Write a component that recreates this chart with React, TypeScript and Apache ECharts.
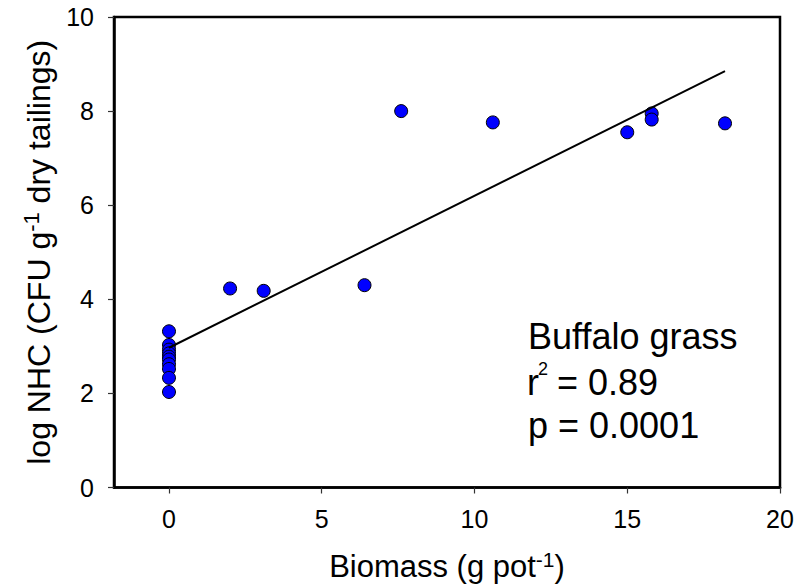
import React, { useEffect, useRef } from "react";
import * as echarts from "echarts";

const biomassX = [0, 0, 0, 0, 0, 0, 0, 0, 0, 0, 2.0, 3.1, 6.4, 7.6, 10.6, 15.0, 15.8, 15.8, 18.2];
const nhcY = [3.32, 3.03, 2.93, 2.85, 2.78, 2.72, 2.62, 2.52, 2.33, 2.03, 4.23, 4.18, 4.3, 8.0, 7.76, 7.55, 7.95, 7.82, 7.74];
const fitX = [0, 18.2];
const fitY = [2.97, 8.85];
const xTickValues = [0, 5, 10, 15, 20];
const annotationTitle = "Buffalo grass";
const annotationR2 = "= 0.89";
const annotationP = "p = 0.0001";

const FONT = "'Liberation Sans', Arial, Helvetica, sans-serif";

export default function App() {
  const ref = useRef<HTMLDivElement>(null);
  useEffect(() => {
    if (!ref.current) return;
    const chart = echarts.init(ref.current, undefined, { renderer: "svg" });
    const points = biomassX.map((x, i) => [x, nhcY[i]]);
    const fit = fitX.map((x, i) => [x, fitY[i]]);
    chart.setOption({
      animation: false,
      backgroundColor: "#ffffff",
      grid: {
        left: 114,
        right: 20,
        top: 17,
        bottom: 99,
        show: true,
        borderColor: "#000",
        borderWidth: 2.5,
        backgroundColor: "transparent",
      },
      xAxis: {
        type: "value",
        min: -1.8,
        max: 20,
        splitLine: { show: false },
        axisLine: { show: true, onZero: false, lineStyle: { color: "#000", width: 2.5 } },
        axisTick: {
          show: true,
          customValues: xTickValues,
          length: 6,
          lineStyle: { color: "#333", width: 1.2 },
        },
        axisLabel: {
          customValues: xTickValues,
          margin: 19,
          fontSize: 25,
          color: "#000",
          fontFamily: FONT,
        },
        name: "{a|Biomass (g pot}{s|-1}{a|)}",
        nameLocation: "middle",
        nameGap: 61,
        nameTextStyle: {
          color: "#000",
          fontFamily: FONT,
          fontSize: 31,
          rich: {
            a: { fontSize: 31, lineHeight: 36, fontFamily: FONT, color: "#000" },
            s: { fontSize: 21, lineHeight: 33, verticalAlign: "top", fontFamily: FONT, color: "#000" },
          },
        },
      },
      yAxis: {
        type: "value",
        min: 0,
        max: 10,
        interval: 2,
        splitLine: { show: false },
        axisLine: { show: true, onZero: false, lineStyle: { color: "#000", width: 2.5 } },
        axisTick: { show: true, length: 6, lineStyle: { color: "#333", width: 1.2 } },
        axisLabel: {
          margin: 20,
          fontSize: 25,
          color: "#000",
          fontFamily: FONT,
        },
        name: "{a|log NHC (CFU g}{s|-1}{a| dry tailings)}",
        nameLocation: "middle",
        nameGap: 48,
        nameTextStyle: {
          color: "#000",
          fontFamily: FONT,
          fontSize: 32,
          rich: {
            a: { fontSize: 32, lineHeight: 38, fontFamily: FONT, color: "#000" },
            s: { fontSize: 22, lineHeight: 33, verticalAlign: "top", fontFamily: FONT, color: "#000" },
          },
        },
      },
      series: [
        {
          type: "scatter",
          data: points,
          symbol: "circle",
          symbolSize: 13,
          itemStyle: { color: "#0000ff", borderColor: "#000", borderWidth: 1, opacity: 1 },
          z: 2,
        },
        {
          type: "line",
          data: fit,
          showSymbol: false,
          symbol: "none",
          lineStyle: { color: "#000", width: 2 },
          z: 3,
        },
      ],
      graphic: [
        {
          type: "text",
          x: 528,
          y: 336,
          style: { text: annotationTitle, fontSize: 36, fontFamily: FONT, fill: "#000", align: "left", verticalAlign: "middle" },
        },
        {
          type: "text",
          x: 527,
          y: 382,
          style: { text: "r", fontSize: 36, fontFamily: FONT, fill: "#000", align: "left", verticalAlign: "middle" },
        },
        {
          type: "text",
          x: 538,
          y: 369,
          style: { text: "2", fontSize: 18, fontFamily: FONT, fill: "#000", align: "left", verticalAlign: "middle" },
        },
        {
          type: "text",
          x: 557,
          y: 382,
          style: { text: annotationR2, fontSize: 36, fontFamily: FONT, fill: "#000", align: "left", verticalAlign: "middle" },
        },
        {
          type: "text",
          x: 528,
          y: 425.5,
          style: { text: annotationP, fontSize: 36, fontFamily: FONT, fill: "#000", align: "left", verticalAlign: "middle" },
        },
      ],
    });
    return () => chart.dispose();
  }, []);
  return (
    <div
      ref={ref}
      style={{ position: "fixed", left: 0, top: 0, width: 800, height: 587, background: "#fff" }}
    />
  );
}
